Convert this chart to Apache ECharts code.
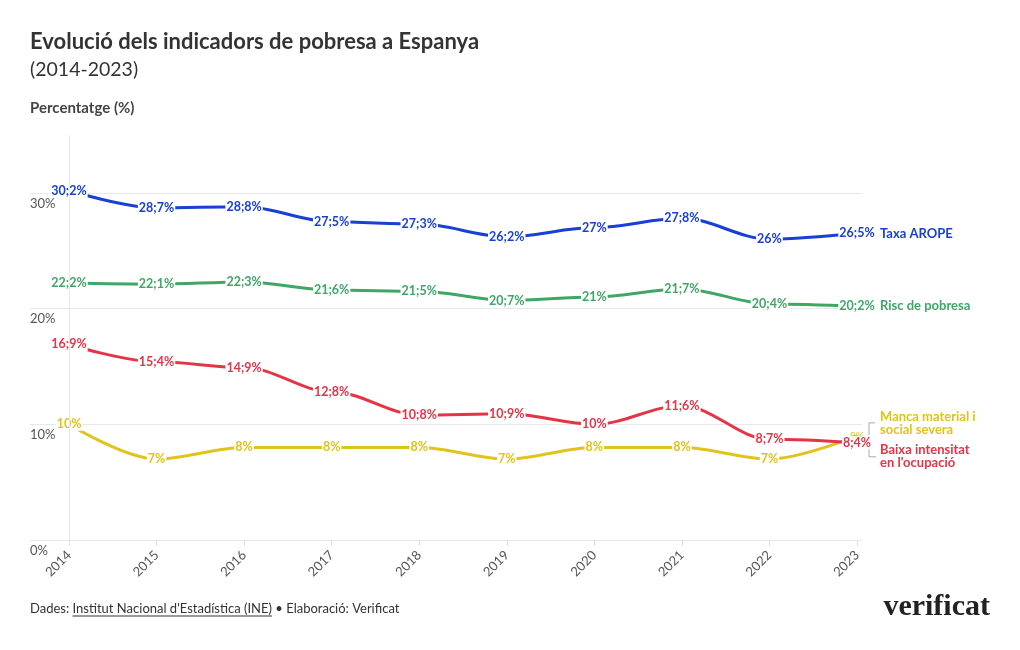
<!DOCTYPE html>
<html>
<head>
<meta charset="utf-8">
<script src="https://cdn.jsdelivr.net/npm/echarts@6/dist/echarts.min.js"></script>
<style>
  html,body{margin:0;padding:0;background:#fff;}
  #chart{width:1020px;height:650px;}
</style>
</head>
<body>
<div id="chart"></div>
<script>
const years = [2014, 2015, 2016, 2017, 2018, 2019, 2020, 2021, 2022, 2023];
const taxaArope = [30.2, 28.7, 28.8, 27.5, 27.3, 26.2, 27, 27.8, 26, 26.5];
const riscPobresa = [22.2, 22.1, 22.3, 21.6, 21.5, 20.7, 21, 21.7, 20.4, 20.2];
const mancaMaterial = [10, 7, 8, 8, 8, 7, 8, 8, 7, 9];
const baixaIntensitat = [16.9, 15.4, 14.9, 12.8, 10.8, 10.9, 10, 11.6, 8.7, 8.4];
const yTicks = [0, 10, 20, 30];

const FONT = 'Lato, "Noto Sans", sans-serif';
const C_BLUE = '#1840d6';
const C_GREEN = '#3fa766';
const C_YELLOW = '#e0c31c';
const C_RED = '#e63447';

const chart = echarts.init(document.getElementById('chart'), null, {renderer: 'canvas'});

function fmt(p) {
  return String(p.value[1]).replace('.', ';') + '%';
}

function mkSeries(name, values, color, endOffset, extra) {
  const s = {
    name: name,
    type: 'line',
    data: values.map((v, i) => [years[i], v]),
    smooth: 0.35,
    smoothMonotone: 'x',
    showSymbol: true,
    symbol: 'circle',
    symbolSize: 0,
    lineStyle: {color: color, width: 3},
    itemStyle: {color: color},
    label: {
      show: true,
      position: 'inside',
      formatter: fmt,
      color: color,
      fontFamily: FONT,
      fontWeight: 'bold',
      fontSize: 12.5,
      backgroundColor: '#fff',
      padding: [0, 1]
    },
    labelLayout: {hideOverlap: false},
    endLabel: {
      show: true,
      formatter: name,
      color: color,
      fontFamily: FONT,
      fontWeight: 'bold',
      fontSize: 13,
      lineHeight: 13,
      distance: 23,
      offset: endOffset,
      align: 'left'
    },
    emphasis: {disabled: true},
    animation: false
  };
  return Object.assign(s, extra || {});
}

const ser = [
  mkSeries('Taxa AROPE', taxaArope, C_BLUE, [0, 0], {
    markLine: {
      silent: true,
      symbol: 'none',
      label: {show: false},
      lineStyle: {color: '#e8e8e8', width: 1, type: 'solid'},
      data: [{xAxis: years[0]}]
    }
  }),
  mkSeries('Risc de pobresa', riscPobresa, C_GREEN, [0, 0]),
  mkSeries('Manca material i social severa', mancaMaterial, C_YELLOW, [0, -13]),
  mkSeries('Baixa intensitat en l\'ocupació', baixaIntensitat, C_RED, [0, 14])
];
ser[2].endLabel.formatter = 'Manca material i\nsocial severa';
ser[3].endLabel.formatter = 'Baixa intensitat\nen l\'ocupació';
// small faded last label for the yellow series
ser[2].data[ser[2].data.length - 1] = {
  value: [years[years.length - 1], mancaMaterial[mancaMaterial.length - 1]],
  label: {fontSize: 10, offset: [0, -7], backgroundColor: 'transparent', opacity: 0.85}
};

const option = {
  backgroundColor: '#fff',
  animation: false,
  textStyle: {fontFamily: FONT},
  title: [
    {text: 'Evolució dels indicadors de pobresa a Espanya', left: 25, top: 26,
     textStyle: {fontFamily: FONT, fontSize: 22, fontWeight: 'bold', color: '#333'}},
    {text: '(2014-2023)', left: 25, top: 55,
     textStyle: {fontFamily: FONT, fontSize: 19.5, fontWeight: 'normal', color: '#333'}},
    {text: 'Percentatge (%)', left: 25, top: 96,
     textStyle: {fontFamily: FONT, fontSize: 15, fontWeight: 'bold', color: '#444'}}
  ],
  grid: {left: 30, right: 158, top: 135, bottom: 110, containLabel: false},
  xAxis: {
    type: 'value',
    min: 2013.5546,
    max: 2023.057,
    axisLine: {show: false},
    splitLine: {show: false},
    axisTick: {show: true, customValues: years, length: 6, lineStyle: {color: '#e0e0e0'}},
    axisLabel: {
      customValues: years,
      formatter: v => String(v),
      rotate: 45,
      color: '#555',
      fontFamily: FONT,
      fontSize: 13,
      margin: 13
    }
  },
  yAxis: {
    type: 'value',
    min: 0,
    max: 35,
    interval: 10,
    axisLine: {show: false},
    axisTick: {show: false},
    splitLine: {show: true, lineStyle: {color: ['#e8e8e8', '#e8e8e8', '#e8e8e8', '#e8e8e8', 'rgba(0,0,0,0)'], width: 1}},
    axisLabel: {
      inside: true,
      showMaxLabel: false,
      align: 'left',
      verticalAlign: 'top',
      margin: 0,
      padding: [4, 0, 0, 0],
      formatter: v => yTicks.indexOf(v) >= 0 ? v + '%' : '',
      color: '#555',
      fontFamily: FONT,
      fontSize: 13
    }
  },
  series: ser
};

chart.setOption(option);

// footer + bracket decorations
const ctx = document.createElement('canvas').getContext('2d');
ctx.font = '13px ' + FONT;
const wDades = ctx.measureText('Dades: ').width;
const wLink = ctx.measureText('Institut Nacional d\'Estadística (INE)').width;

const pY = chart.convertToPixel({gridIndex: 0}, [years[9], mancaMaterial[9]]);
const pR = chart.convertToPixel({gridIndex: 0}, [years[9], baixaIntensitat[9]]);
const bx = pY[0] + 12;

chart.setOption({
  graphic: [
    {type: 'text', left: 30, top: 602,
     style: {text: 'Dades: Institut Nacional d\'Estadística (INE) • Elaboració: Verificat',
             font: '13px ' + FONT, fill: '#333'}},
    {type: 'line', shape: {x1: 30 + wDades, y1: 616, x2: 30 + wDades + wLink, y2: 616},
     style: {stroke: '#333', lineWidth: 1}},
    {type: 'text', right: 30, top: 592,
     style: {text: 'verificat', font: 'bold 30px "Liberation Serif", "DejaVu Serif", serif', fill: '#222'}},
    {type: 'polyline', shape: {points: [[bx + 6, pY[1] - 13], [bx, pY[1] - 13], [bx, pY[1] - 1]]},
     style: {stroke: '#aaa', lineWidth: 1, fill: null}},
    {type: 'polyline', shape: {points: [[bx, pR[1] + 4], [bx, pR[1] + 14], [bx + 7, pR[1] + 14]]},
     style: {stroke: '#aaa', lineWidth: 1, fill: null}}
  ]
});
</script>
</body>
</html>
